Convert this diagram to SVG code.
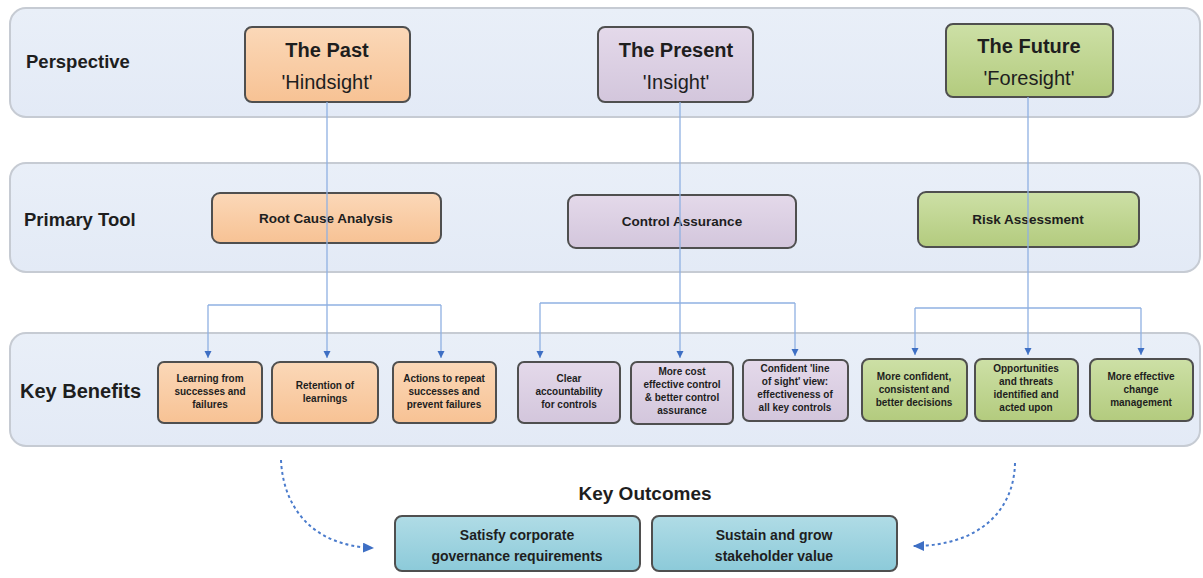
<svg xmlns="http://www.w3.org/2000/svg" width="1203" height="578" viewBox="0 0 1203 578">
<defs>
<linearGradient id="gBand" x1="0" y1="0" x2="0" y2="1"><stop offset="0" stop-color="#e9eff8"/><stop offset="1" stop-color="#e3eaf6"/></linearGradient>
<linearGradient id="gPeach" x1="0" y1="0" x2="0" y2="1"><stop offset="0" stop-color="#fbd8b8"/><stop offset="1" stop-color="#f7c294"/></linearGradient>
<linearGradient id="gPurple" x1="0" y1="0" x2="0" y2="1"><stop offset="0" stop-color="#e4d9ea"/><stop offset="1" stop-color="#d3c6dc"/></linearGradient>
<linearGradient id="gGreen" x1="0" y1="0" x2="0" y2="1"><stop offset="0" stop-color="#cde0a6"/><stop offset="1" stop-color="#b3cb7e"/></linearGradient>
<linearGradient id="gBlue" x1="0" y1="0" x2="0" y2="1"><stop offset="0" stop-color="#b0dce6"/><stop offset="1" stop-color="#8ccad9"/></linearGradient>
<marker id="arr" markerWidth="8" markerHeight="8" refX="7" refY="4" orient="auto" markerUnits="userSpaceOnUse"><path d="M0,0.5 L7,4 L0,7.5 Z" fill="#3e6fc4"/></marker>
<marker id="arr2" markerWidth="12" markerHeight="10" refX="11" refY="5" orient="auto" markerUnits="userSpaceOnUse"><path d="M0,0 L11,5 L0,10 Z" fill="#3e6fc4"/></marker>
<style>
.band{fill:url(#gBand);stroke:#c6cbd3;stroke-width:2}
.lbl{font-family:"Liberation Sans",Arial,sans-serif;font-weight:bold;fill:#1e1e1e}
.node{stroke:#4f4f4f;stroke-width:2}
.peach{fill:url(#gPeach)}
.purple{fill:url(#gPurple)}
.green{fill:url(#gGreen)}
.blue{fill:url(#gBlue)}
.t{font-family:"Liberation Sans",Arial,sans-serif;fill:#1e1e1e;text-anchor:middle}
.big{font-size:20px;font-weight:bold}
.big2{font-size:20px}
.mid{font-size:13.5px;font-weight:bold}
.sm{font-size:10px;font-weight:bold}
.out{font-size:14px;font-weight:bold}
.con{fill:none;stroke:#8fb0e2;stroke-width:1.3}
.curve{fill:none;stroke:#4a7bcc;stroke-width:2;stroke-dasharray:3 3}
</style>
</defs>
<rect width="1203" height="578" fill="#ffffff"/>

<g id="band-perspective">
<rect class="band" x="10" y="8" width="1190" height="109" rx="16"/>
<text class="lbl" x="26" y="68" font-size="18.5">Perspective</text>
</g>
<g id="band-primary-tool">
<rect class="band" x="10" y="163" width="1190" height="109" rx="16"/>
<text class="lbl" x="24" y="226" font-size="18.5">Primary Tool</text>
</g>
<g id="band-key-benefits">
<rect class="band" x="10" y="333" width="1190" height="113" rx="16"/>
<text class="lbl" x="20" y="398" font-size="20">Key Benefits</text>
</g>

<g id="node-past">
<rect class="node peach" x="245" y="27" width="165" height="75" rx="7"/>
<text class="t big" x="327" y="57">The Past</text>
<text class="t big2" x="327" y="89">'Hindsight'</text>
</g>
<g id="node-present">
<rect class="node purple" x="598" y="27" width="155" height="75" rx="7"/>
<text class="t big" x="676" y="57">The Present</text>
<text class="t big2" x="676" y="89">'Insight'</text>
</g>
<g id="node-future">
<rect class="node green" x="946" y="24" width="167" height="73" rx="7"/>
<text class="t big" x="1029" y="53">The Future</text>
<text class="t big2" x="1029" y="85">'Foresight'</text>
</g>

<g id="node-rca">
<rect class="node peach" x="212" y="193" width="229" height="50" rx="8"/>
<text class="t mid" x="326" y="223">Root Cause Analysis</text>
</g>
<g id="node-ca">
<rect class="node purple" x="568" y="195" width="228" height="53" rx="8"/>
<text class="t mid" x="682" y="226">Control Assurance</text>
</g>
<g id="node-ra">
<rect class="node green" x="918" y="192" width="221" height="55" rx="8"/>
<text class="t mid" x="1028" y="224">Risk Assessment</text>
</g>

<g id="node-b1">
<rect class="node peach" x="158" y="362" width="104" height="61" rx="6"/>
<text class="t sm" x="210" y="382">Learning from</text>
<text class="t sm" x="210" y="395">successes and</text>
<text class="t sm" x="210" y="408">failures</text>
</g>
<g id="node-b2">
<rect class="node peach" x="272" y="362" width="106" height="61" rx="8"/>
<text class="t sm" x="325" y="389">Retention of</text>
<text class="t sm" x="325" y="402">learnings</text>
</g>
<g id="node-b3">
<rect class="node peach" x="393" y="362" width="103" height="61" rx="6"/>
<text class="t sm" x="444" y="382">Actions to repeat</text>
<text class="t sm" x="444" y="395">successes and</text>
<text class="t sm" x="444" y="408">prevent failures</text>
</g>
<g id="node-b4">
<rect class="node purple" x="518" y="362" width="102" height="61" rx="6"/>
<text class="t sm" x="569" y="382">Clear</text>
<text class="t sm" x="569" y="395">accountability</text>
<text class="t sm" x="569" y="408">for controls</text>
</g>
<g id="node-b5">
<rect class="node purple" x="631" y="362" width="102" height="62" rx="6"/>
<text class="t sm" x="682" y="375">More cost</text>
<text class="t sm" x="682" y="388">effective control</text>
<text class="t sm" x="682" y="401">&amp; better control</text>
<text class="t sm" x="682" y="414">assurance</text>
</g>
<g id="node-b6">
<rect class="node purple" x="743" y="360" width="105" height="61" rx="6"/>
<text class="t sm" x="795" y="372">Confident 'line</text>
<text class="t sm" x="795" y="385">of sight' view:</text>
<text class="t sm" x="795" y="398">effectiveness of</text>
<text class="t sm" x="795" y="411">all key controls</text>
</g>
<g id="node-b7">
<rect class="node green" x="862" y="359" width="105" height="62" rx="7"/>
<text class="t sm" x="914" y="380">More confident,</text>
<text class="t sm" x="914" y="393">consistent and</text>
<text class="t sm" x="914" y="406">better decisions</text>
</g>
<g id="node-b8">
<rect class="node green" x="975" y="359" width="103" height="62" rx="7"/>
<text class="t sm" x="1026" y="372">Opportunities</text>
<text class="t sm" x="1026" y="385">and threats</text>
<text class="t sm" x="1026" y="398">identified and</text>
<text class="t sm" x="1026" y="411">acted upon</text>
</g>
<g id="node-b9">
<rect class="node green" x="1090" y="359" width="103" height="62" rx="7"/>
<text class="t sm" x="1141" y="380">More effective</text>
<text class="t sm" x="1141" y="393">change</text>
<text class="t sm" x="1141" y="406">management</text>
</g>

<g id="key-outcomes-title">
<text class="lbl" x="645" y="500" font-size="19" text-anchor="middle">Key Outcomes</text>
</g>
<g id="node-o1">
<rect class="node blue" x="395" y="516" width="245" height="55" rx="7"/>
<text class="t out" x="517" y="540">Satisfy corporate</text>
<text class="t out" x="517" y="561">governance requirements</text>
</g>
<g id="node-o2">
<rect class="node blue" x="652" y="516" width="245" height="55" rx="7"/>
<text class="t out" x="774" y="540">Sustain and grow</text>
<text class="t out" x="774" y="561">stakeholder value</text>
</g>

<g id="connectors">
<path class="con" d="M327,102 V358" marker-end="url(#arr)"/>
<path class="con" d="M208,305 H441"/>
<path class="con" d="M208,305 V358" marker-end="url(#arr)"/>
<path class="con" d="M441,305 V358" marker-end="url(#arr)"/>
<path class="con" d="M680,102 V358" marker-end="url(#arr)"/>
<path class="con" d="M540,303 H795"/>
<path class="con" d="M540,303 V358" marker-end="url(#arr)"/>
<path class="con" d="M795,303 V356" marker-end="url(#arr)"/>
<path class="con" d="M1028,97 V355" marker-end="url(#arr)"/>
<path class="con" d="M915,308 H1141"/>
<path class="con" d="M915,308 V355" marker-end="url(#arr)"/>
<path class="con" d="M1141,308 V355" marker-end="url(#arr)"/>
<path class="curve" d="M281,460 C283,505 310,546 374,548" marker-end="url(#arr2)"/>
<path class="curve" d="M1015,463 C1014,510 980,546 913,546" marker-end="url(#arr2)"/>
</g>
</svg>
